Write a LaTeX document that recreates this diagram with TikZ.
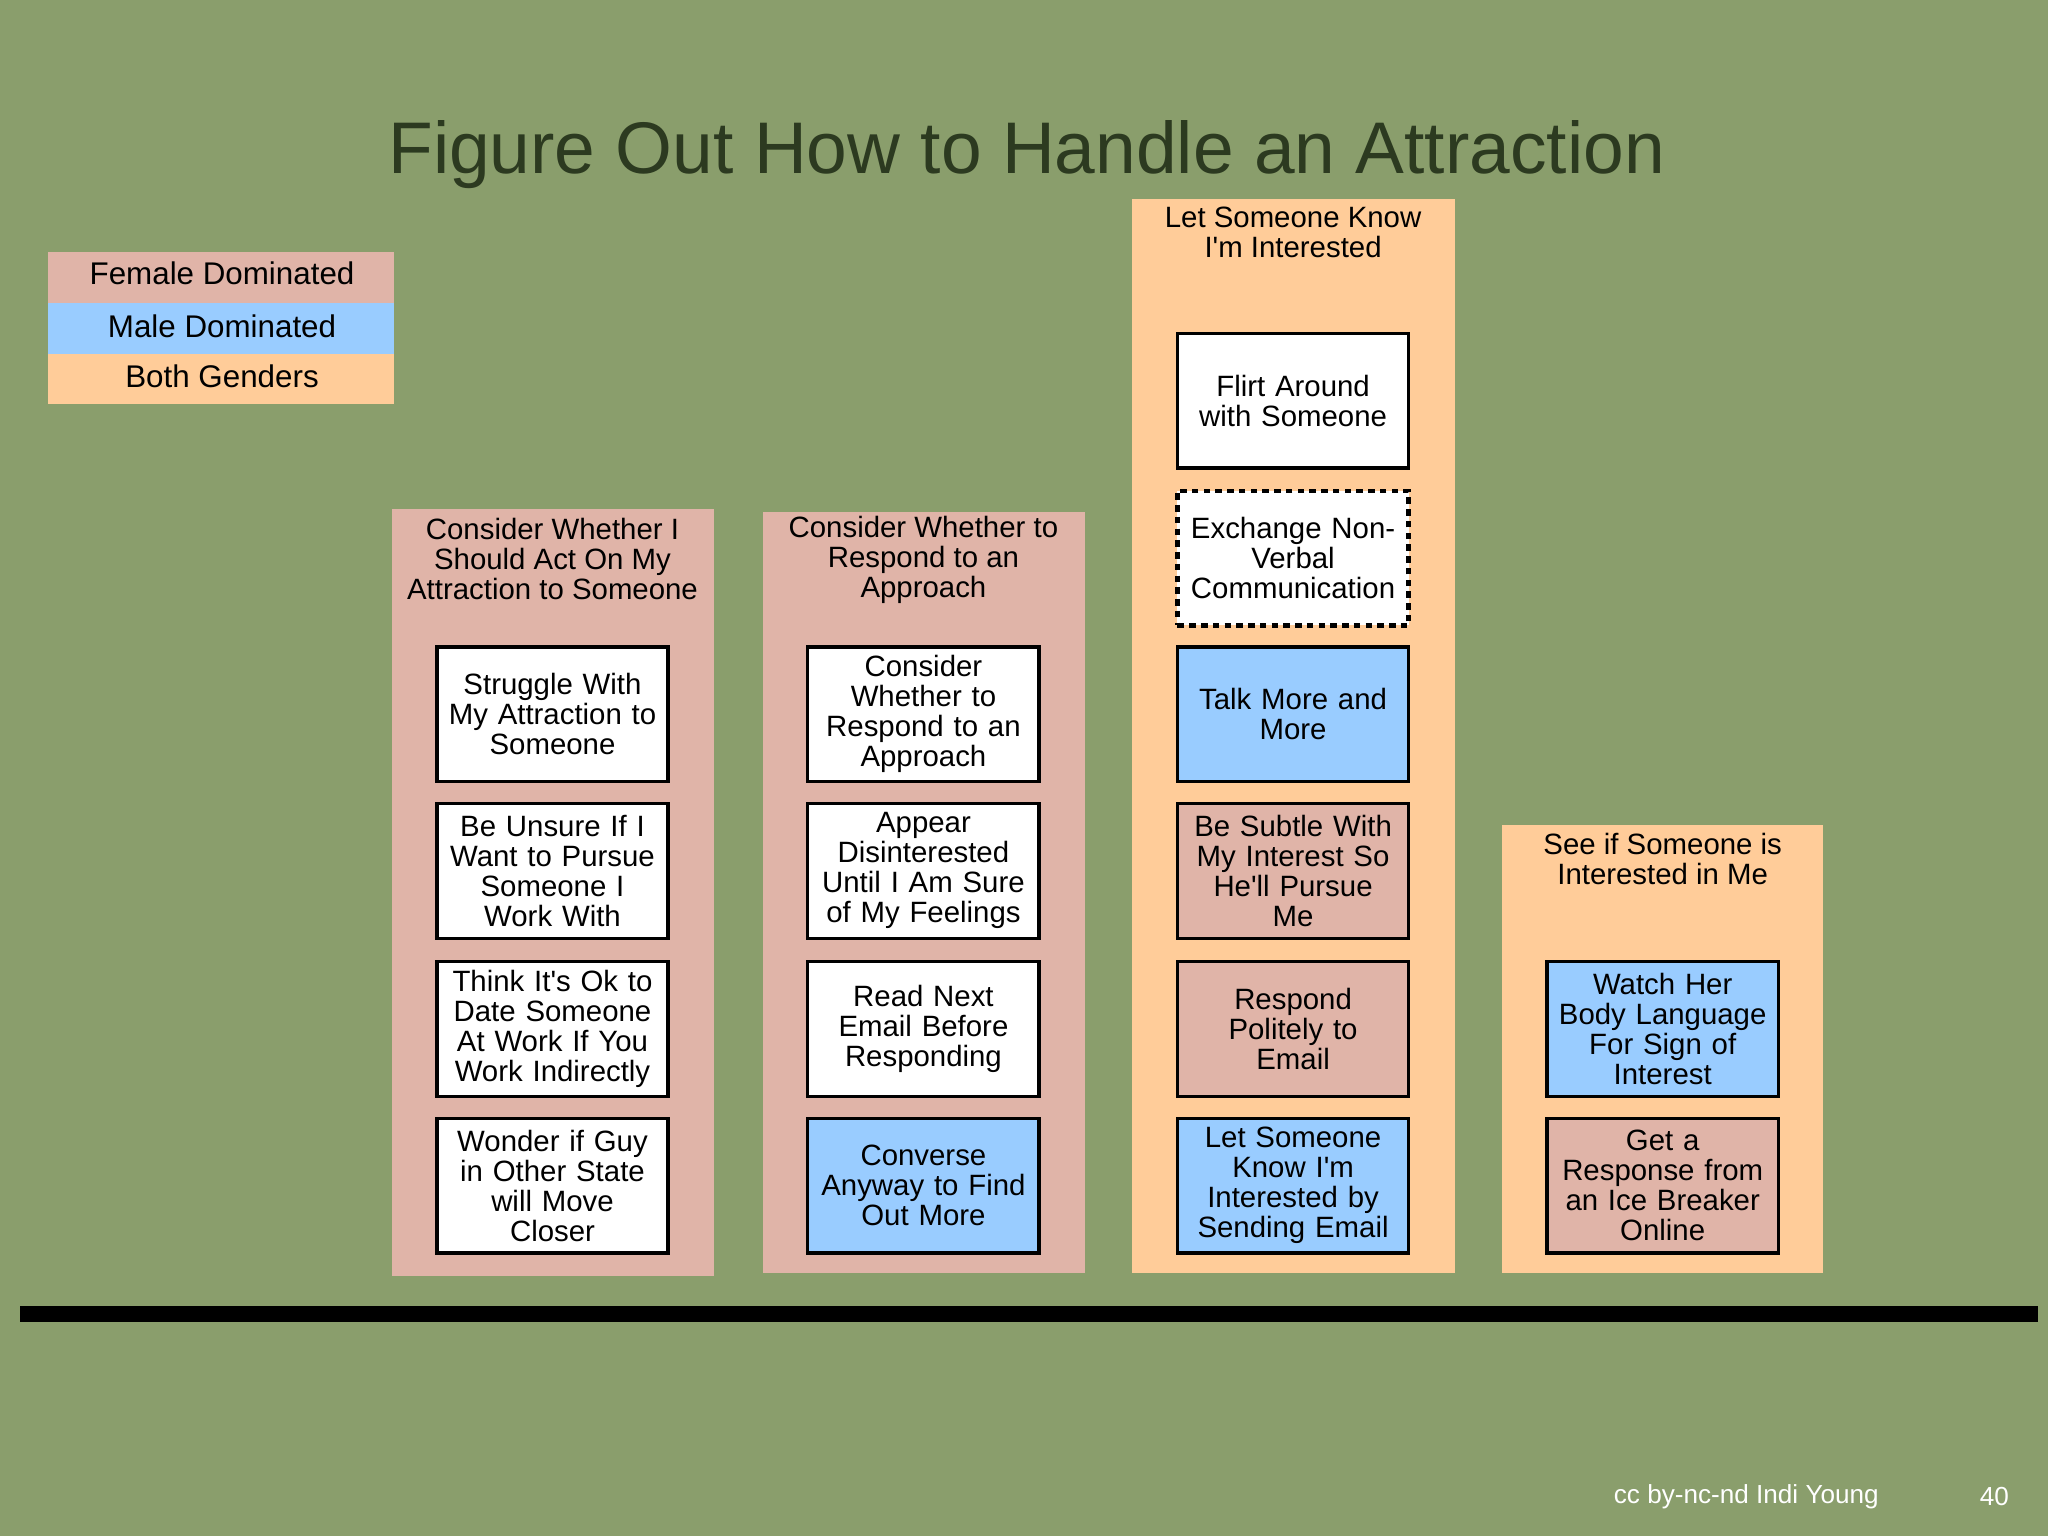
\documentclass[tikz,border=0pt]{standalone}
\usepackage{fontspec}
\setmainfont{Liberation Sans}[Ligatures=TeXOff]
\newcommand{\ap}{'}
\definecolor{bg}{HTML}{8A9E6C}
\definecolor{fem}{HTML}{E0B4A8}
\definecolor{mal}{HTML}{99CCFF}
\definecolor{both}{HTML}{FFCC99}
\definecolor{ttl}{HTML}{2C3A20}
\begin{document}
\begin{tikzpicture}[x=1pt,y=-1pt,
  txt/.style={font=\fontsize{22.5}{23}\selectfont,align=center,inner sep=0pt},
  card/.style={draw=black,line width=2.5pt,minimum width=177pt,minimum height=103pt,text width=174pt,align=center,inner sep=0pt,anchor=north,font=\fontsize{22.5}{23}\selectfont}]
\fill[bg] (0,0) rectangle (1568,1176);
\useasboundingbox (0,0) rectangle (1568,1176);
\node[text=ttl,font=\fontsize{56}{60}\selectfont] (title) at (786,118) {Figure Out How to Handle an Attraction};
% legend
\fill[fem] (37,193) rectangle (302,232);
\fill[mal] (37,232) rectangle (302,271);
\fill[both] (37,271) rectangle (302,309);
\node[txt,font=\fontsize{24}{25}\selectfont] (lf) at (170,209) {Female Dominated};
\node[txt,font=\fontsize{24}{25}\selectfont] (lm) at (170,250) {Male Dominated};
\node[txt,font=\fontsize{24}{25}\selectfont] (lb) at (170,288) {Both Genders};
% columns
\fill[fem] (300,390) rectangle (547,977);
\fill[fem] (584,392) rectangle (831,975);
\fill[both] (867,152) rectangle (1114,975);
\fill[both] (1150,632) rectangle (1396,975);
\node[txt] (h1) at (423,428) {Consider Whether I\\Should Act On My\\Attraction to Someone};
\node[txt] (h2) at (707,429) {Consider Whether to\\Respond to an\\Approach};
\node[txt] (h3) at (990,178) {Let Someone Know\\I\ap m Interested};
\node[txt] (h4) at (1273,658) {See if Someone is\\Interested in Me};
% col1
\node[card,fill=white] (a1) at (423,494) {Struggle With\\My Attraction to\\Someone};
\node[card,fill=white] (a2) at (423,614) {Be Unsure If I\\Want to Pursue\\Someone I\\Work With};
\node[card,fill=white] (a3) at (423,735) {Think It\ap s Ok to\\Date Someone\\At Work If You\\Work Indirectly};
\node[card,fill=white] (a4) at (423,855) {Wonder if Guy\\in Other State\\will Move\\Closer};
% col2
\node[card,fill=white] (b1) at (707,494) {Consider\\Whether to\\Respond to an\\Approach};
\node[card,fill=white] (b2) at (707,614) {Appear\\Disinterested\\Until I Am Sure\\of My Feelings};
\node[card,fill=white] (b3) at (707,735) {Read Next\\Email Before\\Responding};
\node[card,fill=mal] (b4) at (707,855) {Converse\\Anyway to Find\\Out More};
% col3
\node[card,fill=white] (c1) at (990,254) {Flirt Around\\with Someone};
\node[card,fill=white,dash pattern=on 5pt off 4pt,line width=3.5pt] (c2) at (990,374) {Exchange Non-\\Verbal\\Communication};
\node[card,fill=mal] (c3) at (990,494) {Talk More and\\More};
\node[card,fill=fem] (c4) at (990,614) {Be Subtle With\\My Interest So\\He\ap ll Pursue\\Me};
\node[card,fill=fem] (c5) at (990,735) {Respond\\Politely to\\Email};
\node[card,fill=mal] (c6) at (990,855) {Let Someone\\Know I\ap m\\Interested by\\Sending Email};
% col4
\node[card,fill=mal] (d1) at (1273,735) {Watch Her\\Body Language\\For Sign of\\Interest};
\node[card,fill=fem] (d2) at (1273,855) {Get a\\Response from\\an Ice Breaker\\Online};
% baseline
\fill[black] (15,1000) rectangle (1560,1012);
\node[txt,text=white,font=\fontsize{20}{21}\selectfont] (ft) at (1337,1146) {cc by-nc-nd Indi Young};
\node[txt,text=white,font=\fontsize{20}{21}\selectfont] (pg) at (1527,1146) {40};
\end{tikzpicture}
\end{document}
